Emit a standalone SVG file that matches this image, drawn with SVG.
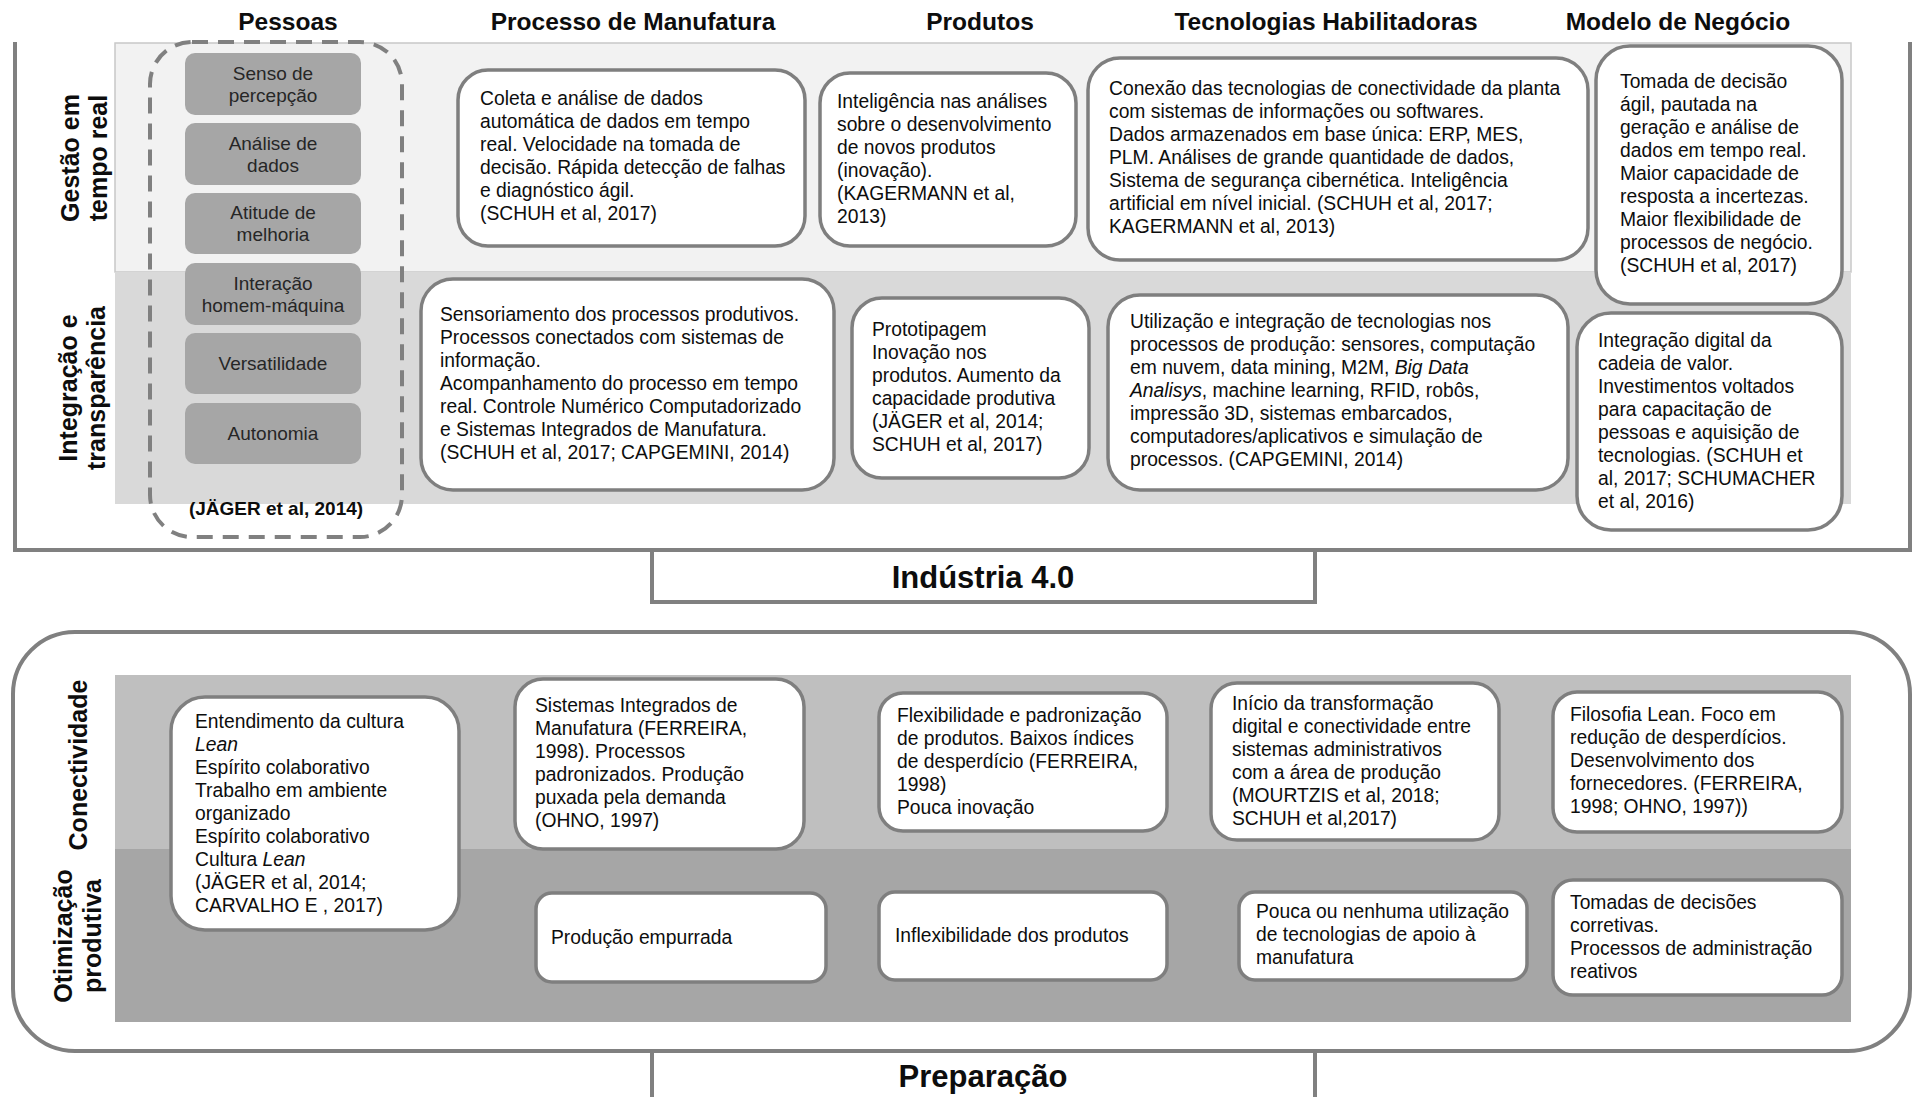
<svg xmlns="http://www.w3.org/2000/svg" width="1921" height="1097" viewBox="0 0 1921 1097">
  <style>
    text { font-family: "Liberation Sans", Arial, sans-serif; fill: #0d0d0d; }
    .hdr { font-size: 24.5px; font-weight: bold; text-anchor: middle; }
    .row { font-size: 25px; font-weight: bold; text-anchor: middle; }
    .t { font-size: 19.3px; }
    .tc { font-size: 19px; text-anchor: middle; fill: #262626; }
    .ttl { font-size: 31px; font-weight: bold; text-anchor: middle; }
    .cite { font-size: 19px; font-weight: bold; text-anchor: middle; }
    .it { font-style: italic; }
    .frame { fill: none; stroke: #808080; stroke-width: 4; }
    .card { fill: #ffffff; stroke: #7f7f7f; stroke-width: 3.5; }
    .pill { fill: #a6a6a6; stroke: none; }
    .tag { fill: #ffffff; stroke: #808080; stroke-width: 4; }
  </style>

  <!-- column headers -->
  <g id="headers">
    <text class="hdr" x="288" y="30">Pessoas</text>
    <text class="hdr" x="633" y="30">Processo de Manufatura</text>
    <text class="hdr" x="980" y="30">Produtos</text>
    <text class="hdr" x="1326" y="30">Tecnologias Habilitadoras</text>
    <text class="hdr" x="1678" y="30">Modelo de Negócio</text>
  </g>

  <!-- Industry 4.0 frame -->
  <g id="frame-industria">
    <path class="frame" d="M15,42 V550 H1910 V42"/>
    <rect x="115" y="43" width="1736" height="229" fill="#f2f2f2" stroke="#c8c8c8" stroke-width="1.5"/>
    <rect x="115" y="272" width="1736" height="232" fill="#d9d9d9"/>
  </g>

  <g id="row-gestao">
    <text class="row" transform="translate(79,158) rotate(-90)">Gestão em</text>
    <text class="row" transform="translate(107,158) rotate(-90)">tempo real</text>
  </g>
  <g id="row-integracao">
    <text class="row" transform="translate(77,388) rotate(-90)">Integração e</text>
    <text class="row" transform="translate(105,388) rotate(-90)">transparência</text>
  </g>

  <!-- people skills -->
  <g id="pessoas">
    <rect x="150" y="42" width="252" height="495" rx="42" fill="none" stroke="#808080" stroke-width="4" stroke-dasharray="16 10"/>
    <g id="senso">
      <rect class="pill" x="185" y="53" width="176" height="62" rx="10"/>
      <text class="tc" x="273" y="80">Senso de</text>
      <text class="tc" x="273" y="102">percepção</text>
    </g>
    <g id="analise">
      <rect class="pill" x="185" y="123" width="176" height="62" rx="10"/>
      <text class="tc" x="273" y="150">Análise de</text>
      <text class="tc" x="273" y="172">dados</text>
    </g>
    <g id="atitude">
      <rect class="pill" x="185" y="193" width="176" height="61" rx="10"/>
      <text class="tc" x="273" y="219">Atitude de</text>
      <text class="tc" x="273" y="241">melhoria</text>
    </g>
    <g id="interacao">
      <rect class="pill" x="185" y="263" width="176" height="62" rx="10"/>
      <text class="tc" x="273" y="290">Interação</text>
      <text class="tc" x="273" y="312">homem-máquina</text>
    </g>
    <g id="versatilidade">
      <rect class="pill" x="185" y="333" width="176" height="61" rx="10"/>
      <text class="tc" x="273" y="370">Versatilidade</text>
    </g>
    <g id="autonomia">
      <rect class="pill" x="185" y="403" width="176" height="61" rx="10"/>
      <text class="tc" x="273" y="440">Autonomia</text>
    </g>
    <text class="cite" x="276" y="515">(JÄGER et al, 2014)</text>
  </g>

  <!-- Gestão em tempo real -->
  <g id="proc-gestao">
    <rect class="card" x="458" y="70" width="347" height="176" rx="30"/>
    <text class="t" x="480" y="105"><tspan x="480">Coleta e análise de dados</tspan><tspan x="480" dy="23">automática de dados em tempo</tspan><tspan x="480" dy="23">real. Velocidade na tomada de</tspan><tspan x="480" dy="23">decisão. Rápida detecção de falhas</tspan><tspan x="480" dy="23">e diagnóstico ágil.</tspan><tspan x="480" dy="23">(SCHUH et al, 2017)</tspan></text>
  </g>
  <g id="prod-gestao">
    <rect class="card" x="820" y="73" width="256" height="173" rx="30"/>
    <text class="t" x="837" y="107.5"><tspan x="837">Inteligência nas análises</tspan><tspan x="837" dy="23">sobre o desenvolvimento</tspan><tspan x="837" dy="23">de novos produtos</tspan><tspan x="837" dy="23">(inovação).</tspan><tspan x="837" dy="23">(KAGERMANN et al,</tspan><tspan x="837" dy="23">2013)</tspan></text>
  </g>
  <g id="tec-gestao">
    <rect class="card" x="1088" y="58" width="500" height="202" rx="32"/>
    <text class="t" x="1109" y="95"><tspan x="1109">Conexão das tecnologias de conectividade da planta</tspan><tspan x="1109" dy="23">com sistemas de informações ou softwares.</tspan><tspan x="1109" dy="23">Dados armazenados em base única: ERP, MES,</tspan><tspan x="1109" dy="23">PLM. Análises de grande quantidade de dados,</tspan><tspan x="1109" dy="23">Sistema de segurança cibernética. Inteligência</tspan><tspan x="1109" dy="23">artificial em nível inicial. (SCHUH et al, 2017;</tspan><tspan x="1109" dy="23">KAGERMANN et al, 2013)</tspan></text>
  </g>
  <g id="neg-gestao">
    <rect class="card" x="1596" y="46" width="246" height="258" rx="34"/>
    <text class="t" x="1620" y="88"><tspan x="1620">Tomada de decisão</tspan><tspan x="1620" dy="23">ágil, pautada na</tspan><tspan x="1620" dy="23">geração e análise de</tspan><tspan x="1620" dy="23">dados em tempo real.</tspan><tspan x="1620" dy="23">Maior capacidade de</tspan><tspan x="1620" dy="23">resposta a incertezas.</tspan><tspan x="1620" dy="23">Maior flexibilidade de</tspan><tspan x="1620" dy="23">processos de negócio.</tspan><tspan x="1620" dy="23">(SCHUH et al, 2017)</tspan></text>
  </g>

  <!-- Integração e transparência -->
  <g id="proc-integracao">
    <rect class="card" x="421" y="279" width="413" height="211" rx="32"/>
    <text class="t" x="440" y="321"><tspan x="440">Sensoriamento dos processos produtivos.</tspan><tspan x="440" dy="23">Processos conectados com sistemas de</tspan><tspan x="440" dy="23">informação.</tspan><tspan x="440" dy="23">Acompanhamento do processo em tempo</tspan><tspan x="440" dy="23">real. Controle Numérico Computadorizado</tspan><tspan x="440" dy="23">e Sistemas Integrados de Manufatura.</tspan><tspan x="440" dy="23">(SCHUH et al, 2017; CAPGEMINI, 2014)</tspan></text>
  </g>
  <g id="prod-integracao">
    <rect class="card" x="852" y="298" width="237" height="180" rx="30"/>
    <text class="t" x="872" y="336"><tspan x="872">Prototipagem</tspan><tspan x="872" dy="23">Inovação nos</tspan><tspan x="872" dy="23">produtos. Aumento da</tspan><tspan x="872" dy="23">capacidade produtiva</tspan><tspan x="872" dy="23">(JÄGER et al, 2014;</tspan><tspan x="872" dy="23">SCHUH et al, 2017)</tspan></text>
  </g>
  <g id="tec-integracao">
    <rect class="card" x="1108" y="295" width="460" height="195" rx="32"/>
    <text class="t" x="1130" y="328"><tspan x="1130">Utilização e integração de tecnologias nos</tspan><tspan x="1130" dy="23">processos de produção: sensores, computação</tspan><tspan x="1130" dy="23">em nuvem, data mining, M2M, <tspan class="it">Big Data</tspan></tspan><tspan x="1130" dy="23"><tspan class="it">Analisys</tspan>, machine learning, RFID,  robôs,</tspan><tspan x="1130" dy="23">impressão 3D, sistemas embarcados,</tspan><tspan x="1130" dy="23">computadores/aplicativos e simulação de</tspan><tspan x="1130" dy="23">processos. (CAPGEMINI, 2014)</tspan></text>
  </g>
  <g id="neg-integracao">
    <rect class="card" x="1577" y="313" width="265" height="217" rx="34"/>
    <text class="t" x="1598" y="347"><tspan x="1598">Integração digital da</tspan><tspan x="1598" dy="23">cadeia de valor.</tspan><tspan x="1598" dy="23">Investimentos voltados</tspan><tspan x="1598" dy="23">para capacitação de</tspan><tspan x="1598" dy="23">pessoas e aquisição de</tspan><tspan x="1598" dy="23">tecnologias. (SCHUH et</tspan><tspan x="1598" dy="23">al, 2017; SCHUMACHER</tspan><tspan x="1598" dy="23">et al, 2016)</tspan></text>
  </g>

  <g id="industria">
    <rect class="tag" x="652" y="550" width="663" height="52"/>
    <text class="ttl" x="983" y="588">Indústria 4.0</text>
  </g>

  <!-- Preparação frame -->
  <g id="frame-preparacao">
    <rect class="frame" x="13" y="632" width="1897" height="419" rx="62"/>
    <rect x="115" y="675" width="1736" height="174" fill="#bfbfbf"/>
    <rect x="115" y="849" width="1736" height="173" fill="#a6a6a6"/>
  </g>

  <g id="row-conectividade">
    <text class="row" transform="translate(87,765) rotate(-90)">Conectividade</text>
  </g>
  <g id="row-otimizacao">
    <text class="row" transform="translate(72,936) rotate(-90)">Otimização</text>
    <text class="row" transform="translate(101,936) rotate(-90)">produtiva</text>
  </g>

  <!-- Conectividade -->
  <g id="pessoas-prep">
    <rect class="card" x="171" y="697" width="288" height="233" rx="34"/>
    <text class="t" x="195" y="728"><tspan x="195">Entendimento da cultura</tspan><tspan x="195" dy="23" class="it">Lean</tspan><tspan x="195" dy="23">Espírito colaborativo</tspan><tspan x="195" dy="23">Trabalho em ambiente</tspan><tspan x="195" dy="23">organizado</tspan><tspan x="195" dy="23">Espírito colaborativo</tspan><tspan x="195" dy="23">Cultura <tspan class="it">Lean</tspan></tspan><tspan x="195" dy="23">(JÄGER et al, 2014;</tspan><tspan x="195" dy="23">CARVALHO E , 2017)</tspan></text>
  </g>
  <g id="proc-conect">
    <rect class="card" x="515" y="679" width="289" height="170" rx="28"/>
    <text class="t" x="535" y="711.5"><tspan x="535">Sistemas Integrados de</tspan><tspan x="535" dy="23">Manufatura (FERREIRA,</tspan><tspan x="535" dy="23">1998). Processos</tspan><tspan x="535" dy="23">padronizados. Produção</tspan><tspan x="535" dy="23">puxada pela demanda</tspan><tspan x="535" dy="23">(OHNO, 1997)</tspan></text>
  </g>
  <g id="prod-conect">
    <rect class="card" x="879" y="693" width="288" height="138" rx="24"/>
    <text class="t" x="897" y="722"><tspan x="897">Flexibilidade e padronização</tspan><tspan x="897" dy="23">de produtos. Baixos índices</tspan><tspan x="897" dy="23">de desperdício (FERREIRA,</tspan><tspan x="897" dy="23">1998)</tspan><tspan x="897" dy="23">Pouca inovação</tspan></text>
  </g>
  <g id="tec-conect">
    <rect class="card" x="1211" y="683" width="288" height="157" rx="26"/>
    <text class="t" x="1232" y="709.5"><tspan x="1232">Início da transformação</tspan><tspan x="1232" dy="23">digital e conectividade entre</tspan><tspan x="1232" dy="23">sistemas administrativos</tspan><tspan x="1232" dy="23">com a área de produção</tspan><tspan x="1232" dy="23">(MOURTZIS  et al, 2018;</tspan><tspan x="1232" dy="23">SCHUH et al,2017)</tspan></text>
  </g>
  <g id="neg-conect">
    <rect class="card" x="1553" y="692" width="289" height="140" rx="24"/>
    <text class="t" x="1570" y="721"><tspan x="1570">Filosofia Lean. Foco em</tspan><tspan x="1570" dy="23">redução de desperdícios.</tspan><tspan x="1570" dy="23">Desenvolvimento dos</tspan><tspan x="1570" dy="23">fornecedores. (FERREIRA,</tspan><tspan x="1570" dy="23">1998; OHNO, 1997))</tspan></text>
  </g>

  <!-- Otimização produtiva -->
  <g id="proc-otim">
    <rect class="card" x="536" y="893" width="290" height="89" rx="16"/>
    <text class="t" x="551" y="944">Produção empurrada</text>
  </g>
  <g id="prod-otim">
    <rect class="card" x="879" y="892" width="288" height="88" rx="16"/>
    <text class="t" x="895" y="942">Inflexibilidade dos produtos</text>
  </g>
  <g id="tec-otim">
    <rect class="card" x="1239" y="892" width="288" height="88" rx="16"/>
    <text class="t" x="1256" y="918"><tspan x="1256">Pouca ou nenhuma utilização</tspan><tspan x="1256" dy="23">de tecnologias de apoio à</tspan><tspan x="1256" dy="23">manufatura</tspan></text>
  </g>
  <g id="neg-otim">
    <rect class="card" x="1553" y="880" width="289" height="115" rx="20"/>
    <text class="t" x="1570" y="909"><tspan x="1570">Tomadas de decisões</tspan><tspan x="1570" dy="23">corretivas.</tspan><tspan x="1570" dy="23">Processos de administração</tspan><tspan x="1570" dy="23">reativos</tspan></text>
  </g>

  <g id="preparacao">
    <rect class="tag" x="652" y="1051" width="663" height="80"/>
    <text class="ttl" x="983" y="1087">Preparação</text>
  </g>
</svg>
